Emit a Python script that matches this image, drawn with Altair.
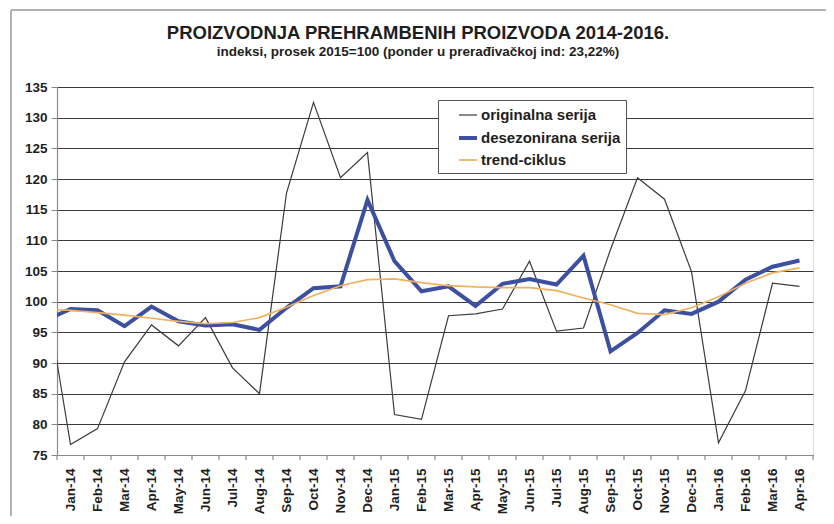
import altair as alt
import pandas as pd

months = ["Jan-14", "Feb-14", "Mar-14", "Apr-14", "May-14", "Jun-14", "Jul-14", "Aug-14",
          "Sep-14", "Oct-14", "Nov-14", "Dec-14", "Jan-15", "Feb-15", "Mar-15", "Apr-15",
          "May-15", "Jun-15", "Jul-15", "Aug-15", "Sep-15", "Oct-15", "Nov-15", "Dec-15",
          "Jan-16", "Feb-16", "Mar-16", "Apr-16"]

series_names = ["originalna serija", "desezonirana serija", "trend-ciklus"]

# value of the (clipped) month before Jan-14, whose segment enters at the left edge
previous = [103.5, 96.8, 98.7]

original = [76.7, 79.3, 90.2, 96.2, 92.8, 97.4, 89.2, 85.0, 117.7, 132.5, 120.2, 124.3,
            81.6, 80.8, 97.7, 98.0, 98.8, 106.6, 95.2, 95.7, 108.5, 120.2, 116.7, 104.9,
            77.0, 85.5, 103.0, 102.5]
deseasonal = [98.8, 98.6, 96.0, 99.2, 96.8, 96.1, 96.3, 95.4, 99.0, 102.2, 102.5, 116.6,
              106.6, 101.7, 102.5, 99.3, 102.9, 103.7, 102.8, 107.5, 91.9, 94.9, 98.6, 98.0,
              100.0, 103.6, 105.7, 106.7]
trend = [98.6, 98.2, 97.8, 97.3, 96.8, 96.4, 96.6, 97.4, 99.1, 101.0, 102.6, 103.6,
         103.7, 103.1, 102.6, 102.4, 102.3, 102.3, 101.8, 100.6, 99.5, 98.1, 97.9, 99.0,
         100.8, 103.0, 104.7, 105.5]

y_ticks = [75, 80, 85, 90, 95, 100, 105, 110, 115, 120, 125, 130, 135]

rows = []
for name, prev, vals in zip(series_names, previous, [original, deseasonal, trend]):
    rows.append({"i": -1, "v": prev, "s": name})
    for k, v in enumerate(vals):
        rows.append({"i": k, "v": v, "s": name})
df = pd.DataFrame(rows)

tick_df = pd.DataFrame({"i": [k - 0.5 for k in range(len(months) + 1)]})

W, H = 756, 368
FONT = "Liberation Sans"
TXT = "#1e1e1e"

label_expr = "[" + ",".join("'" + m + "'" for m in months) + "][datum.value]"

x_enc = alt.X(
    "i:Q",
    scale=alt.Scale(domain=[-0.5, len(months) - 0.5], nice=False, zero=False),
    axis=alt.Axis(values=list(range(len(months))), labelExpr=label_expr, labelAngle=-90,
                  labelOverlap=False, labelBound=False, labelFlush=False, ticks=False,
                  grid=False, labelPadding=13,
                  labelFont=FONT, labelFontSize=13.5, labelFontWeight="bold",
                  labelColor=TXT, domainColor="#8a8a8a", domainWidth=1.2, title=None),
)
y_enc = alt.Y(
    "v:Q",
    scale=alt.Scale(domain=[75, 135], nice=False, zero=False),
    axis=alt.Axis(values=y_ticks, grid=True, gridColor="#3a3a3a", gridWidth=1.1,
                  tickSize=6, tickColor="#8a8a8a", labelPadding=4, labelFont=FONT,
                  labelFontSize=13.5, labelFontWeight="bold", labelColor=TXT,
                  domainColor="#8a8a8a", domainWidth=1.2, title=None),
)

leg = alt.Legend(title=None, orient="none", legendX=381, legendY=13, direction="vertical",
                 fillColor="white", strokeColor="#555555", padding=5, symbolType="stroke",
                 symbolSize=324, symbolOffset=14, labelOffset=2, labelFont=FONT,
                 labelFontSize=15, labelFontWeight="bold", labelColor=TXT, rowPadding=4,
                 labelLimit=400, labelExpr="datum.label + '\u00a0\u00a0\u00a0\u00a0'")

lines = alt.Chart(df).mark_line(clip=True).encode(
    x=x_enc,
    y=y_enc,
    color=alt.Color("s:N", scale=alt.Scale(domain=series_names,
                                           range=["#3c3c3c", "#3d4f9f", "#eeb25e"]),
                    legend=leg),
    strokeWidth=alt.StrokeWidth("s:N", scale=alt.Scale(type="ordinal", domain=series_names,
                                                       range=[1.2, 4, 1.7]),
                                legend=leg),
    order=alt.Order("i:Q"),
)

ticks = alt.Chart(tick_df).mark_rule(color="#8a8a8a", strokeWidth=1.2).encode(
    x=x_enc, y=alt.value(H), y2=alt.value(H + 5)
)

one = pd.DataFrame({"a": [0]})
border_top = alt.Chart(one).mark_rule(color="#9a9a9a", strokeWidth=1.5).encode(
    x=alt.value(-46), x2=alt.value(W + 13), y=alt.value(-77)
)
border_left = alt.Chart(one).mark_rule(color="#9a9a9a", strokeWidth=1.5).encode(
    x=alt.value(-46), y=alt.value(-77), y2=alt.value(H + 61)
)

chart = alt.layer(border_top, border_left, lines, ticks).properties(
    width=W,
    height=H,
    autosize=alt.AutoSizeParams(type="none"),
    padding={"left": 49, "top": 79, "right": 13, "bottom": 61},
    title=alt.Title(
        "PROIZVODNJA PREHRAMBENIH  PROIZVODA 2014-2016.",
        subtitle="indeksi, prosek 2015=100 (ponder u prerađivačkoj ind: 23,22%)",
        font=FONT, fontSize=18.5, fontWeight="bold", color=TXT,
        subtitleFont=FONT, subtitleFontSize=13.5, subtitleFontWeight="bold",
        subtitleColor=TXT, subtitlePadding=2, anchor="middle", dx=-17, dy=77, offset=28,
    ),
).configure_view(stroke="#8a8a8a", strokeWidth=1.2).configure(background="white")

chart.save("out.html", embed_options={"renderer": "svg", "actions": False})
